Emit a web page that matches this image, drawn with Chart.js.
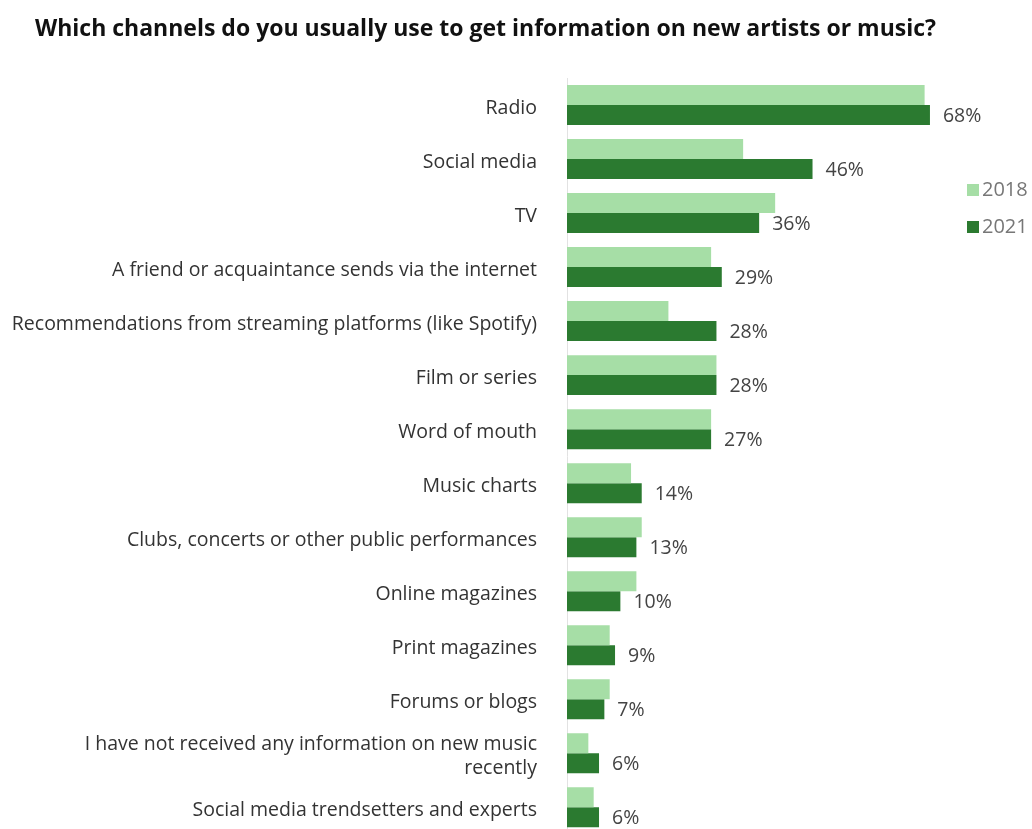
<!DOCTYPE html>
<html>
<head>
<meta charset="utf-8">
<script src="https://cdn.jsdelivr.net/npm/chart.js@4.4.1/dist/chart.umd.min.js"></script>
<style>
  html, body { margin: 0; padding: 0; background: #fff; overflow: hidden; }
  #wrap { position: relative; width: 1032px; height: 829px; overflow: hidden; }
  #title { position: absolute; left: 35px; top: 11px; font: bold 23px "Open Sans", sans-serif; color: #111; white-space: nowrap; }
  #chartBox { position: absolute; left: 0; top: 0; width: 1032px; height: 876px; }
  .legend { position: absolute; left: 967px; font: 20px "Open Sans", sans-serif; line-height: 26px; color: #777; }
  .legend span { display: inline-block; width: 12px; height: 12px; margin-right: 3px; vertical-align: 0px; }
</style>
</head>
<body>
<div id="wrap">
  <div id="chartBox"><canvas id="chart"></canvas></div>
  <div id="title">Which channels do you usually use to get information on new artists or music?</div>
  <div class="legend" style="top:176px"><span style="background:#a6dea6"></span>2018</div>
  <div class="legend" style="top:213px"><span style="background:#2b7a30"></span>2021</div>
</div>
<script>
const categories = [
  'Radio',
  'Social media',
  'TV',
  'A friend or acquaintance sends via the internet',
  'Recommendations from streaming platforms (like Spotify)',
  'Film or series',
  'Word of mouth',
  'Music charts',
  'Clubs, concerts or other public performances',
  'Online magazines',
  'Print magazines',
  'Forums or blogs',
  ['I have not received any information on new music', 'recently'],
  'Social media trendsetters and experts',
];
const values2018 = [67, 33, 39, 27, 19, 28, 27, 12, 14, 13, 8, 8, 4, 5];
const values2021 = [68, 46, 36, 29, 28, 28, 27, 14, 13, 10, 9, 7, 6, 6];

// percentage labels next to the 2021 bars
const endLabels = {
  id: 'endLabels',
  afterDatasetsDraw(chart) {
    const ctx = chart.ctx;
    const meta = chart.getDatasetMeta(1);
    ctx.save();
    ctx.font = '19.5px "Open Sans", sans-serif';
    ctx.fillStyle = '#444';
    ctx.textBaseline = 'middle';
    meta.data.forEach((bar, i) => {
      ctx.fillText(values2021[i] + '%', bar.x + 13, bar.y + 1);
    });
    ctx.restore();
  }
};

new Chart(document.getElementById('chart'), {
  type: 'bar',
  data: {
    labels: categories,
    datasets: [
      { label: '2018', data: values2018, backgroundColor: '#a6dea6' },
      { label: '2021', data: values2021, backgroundColor: '#2b7a30' },
    ],
  },
  options: {
    indexAxis: 'y',
    responsive: true,
    maintainAspectRatio: false,
    animation: false,
    layout: { padding: { top: 78, bottom: 0, right: 38, left: 0 } },
    datasets: { bar: { barPercentage: 1, categoryPercentage: 0.74 } },
    plugins: { legend: { display: false }, tooltip: { enabled: false } },
    scales: {
      x: { min: 0, max: 80, display: false },
      y: {
        afterFit(scale) { scale.width = 567; },
        grid: { display: false, drawTicks: false },
        border: { display: true, color: '#e2e2e2', width: 1 },
        ticks: { padding: 30, labelOffset: 3, color: '#333', font: { family: 'Open Sans', size: 19.5 } },
      },
    },
  },
  plugins: [endLabels],
});
</script>
</body>
</html>
